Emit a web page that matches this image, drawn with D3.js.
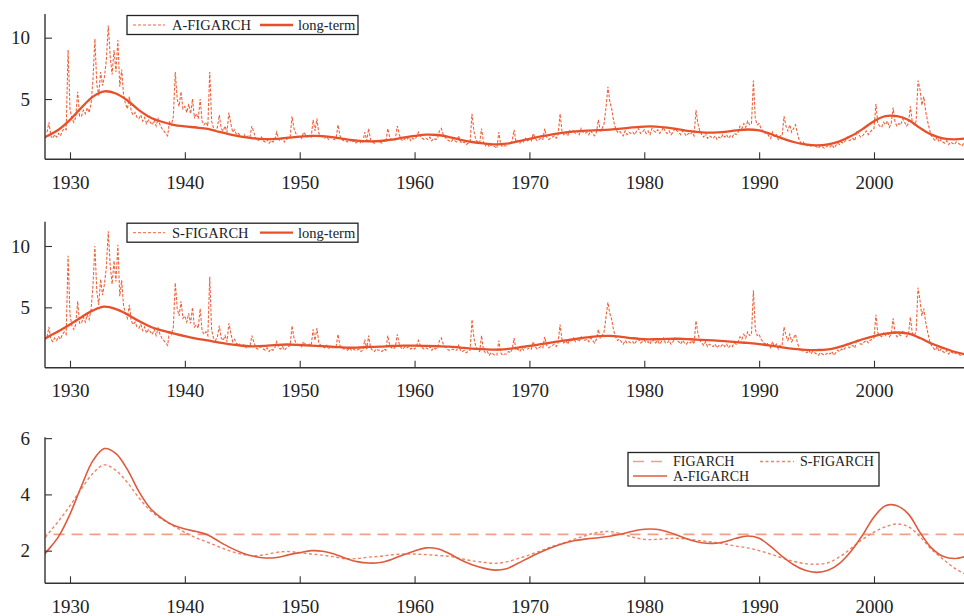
<!DOCTYPE html>
<html lang="en">
<head>
<meta charset="UTF-8">
<title>FIGARCH long-term components</title>
<script src="https://cdn.jsdelivr.net/npm/d3@7/dist/d3.min.js"></script>
<style>
  html, body { margin: 0; padding: 0; background: #fff; }
  svg text { font-family: "Liberation Serif", "DejaVu Serif", serif; fill: #222; }
</style>
</head>
<body>
<svg width="964" height="616"></svg>
<script>
// ---- data ----
// short-term series: 6 obs per year, first obs at 1928.0
var hfStart = 1928, hfPerYear = 6;
var aFigarch = [
  2.3, 3.1, 2.0, 1.8, 2.1, 1.9,   // 1928
  2.2, 2.0, 2.4, 2.6, 2.5, 9.0,   // 1929
  4.2, 3.4, 3.1, 3.5, 5.6, 3.6,
  3.6, 4.1, 3.8, 4.3, 3.9, 4.6,
  6.6, 9.9, 6.2, 5.3, 7.2, 6.1,
  6.8, 8.2, 11.0, 8.5, 7.0, 9.0,
  7.2, 9.8, 6.0, 7.4, 5.3, 4.6,
  4.2, 5.2, 4.0, 3.7, 3.9, 3.5,
  3.4, 3.7, 3.2, 3.5, 3.0, 3.3,
  3.1, 2.9, 3.3, 2.8, 3.4, 2.9,
  2.6, 2.4, 2.2, 2.0, 3.2, 2.9,   // 1938
  3.6, 7.2, 5.0, 4.4, 5.6, 4.2,
  4.4, 3.9, 4.6, 3.8, 5.0, 3.5,   // 1940
  3.8, 3.4, 5.0, 3.2, 2.9, 3.1,
  2.8, 7.2, 3.2, 2.6, 2.4, 2.7,
  3.7, 2.6, 2.4, 2.8, 2.3, 3.9,
  3.0, 2.3, 2.5, 2.1, 2.2, 2.0,
  1.9, 2.1, 1.8, 2.0, 1.9, 2.8,
  2.3, 1.8, 1.6, 1.7, 1.9, 1.6,
  1.5, 1.7, 1.4, 1.6, 1.5, 1.7,
  2.3, 1.7, 1.6, 1.8, 1.5, 1.7,
  1.8, 1.9, 3.6, 2.6, 2.2, 1.9,
  2.0, 1.8, 2.3, 2.1, 1.9, 2.0,   // 1950
  1.9, 3.3, 2.4, 3.4, 2.2, 2.0,
  1.9, 1.8, 2.0, 1.7, 1.9, 1.8,
  1.7, 1.8, 2.9, 2.0, 1.7, 1.6,
  1.6, 1.5, 1.7, 1.5, 1.6, 1.4,
  1.5, 1.6, 1.4, 1.5, 2.3, 1.6,
  2.6, 1.7, 1.5, 1.4, 1.6, 1.5,
  1.5, 1.4, 1.6, 1.5, 2.6, 1.9,
  1.7, 1.6, 1.8, 2.8, 2.1, 1.7,
  1.6, 1.8, 1.7, 1.9, 1.6, 1.8,
  1.7, 1.9, 2.3, 2.0, 1.8, 1.7,   // 1960
  1.8, 1.7, 1.9, 1.6, 1.8, 1.7,
  1.8, 2.4, 2.6, 2.1, 1.9, 1.7,
  1.6, 1.5, 1.7, 1.6, 1.5, 2.0,
  1.5, 1.4, 1.5, 1.3, 1.4, 1.5,
  3.8, 2.4, 1.7, 1.5, 1.4, 2.6,
  1.5, 1.2, 1.4, 1.1, 1.3, 1.2,
  1.1, 1.0, 2.3, 1.3, 1.1, 1.2,
  1.2, 1.4, 1.3, 1.6, 2.5, 1.5,
  1.6, 1.4, 1.7, 1.5, 1.8, 1.6,
  1.7, 1.6, 2.2, 1.8, 1.6, 1.7,   // 1970
  1.8, 1.7, 2.6, 1.9, 1.7, 1.8,
  1.9, 2.0, 1.8, 2.1, 3.8, 2.4,
  2.1, 2.3, 2.0, 2.4, 2.2, 2.5,
  2.2, 2.4, 2.1, 2.6, 2.3, 2.2,
  2.3, 2.1, 2.4, 2.2, 2.0, 2.3,
  3.3, 2.4, 2.6, 3.0, 4.3, 6.0,
  4.8, 4.2, 3.2, 2.6, 2.3, 2.4,
  2.2, 2.0, 2.4, 2.1, 2.3, 2.2,
  2.3, 2.1, 2.4, 2.6, 2.2, 2.3,
  2.5, 2.2, 2.4, 2.1, 2.6, 2.4,   // 1980
  2.3, 2.5, 2.2, 2.4, 2.7, 2.3,
  2.2, 2.4, 2.1, 2.3, 2.6, 2.4,
  2.3, 2.1, 2.4, 2.2, 2.0, 2.2,
  2.1, 2.3, 2.0, 4.1, 3.0, 2.4,
  2.1, 1.9, 2.2, 1.8, 2.0, 1.9,
  1.8, 2.0, 1.7, 1.9, 1.8, 2.1,
  1.9, 2.1, 1.8, 2.0, 1.9, 2.2,
  2.1, 2.3, 2.8, 2.6, 3.0, 2.7,
  3.2, 2.9, 3.0, 6.5, 3.4, 2.9,
  3.0, 2.6, 2.4, 2.2, 2.3, 2.0,   // 1990
  1.8, 2.3, 1.9, 2.1, 1.7, 2.0,
  2.0, 3.6, 2.8, 2.4, 2.9, 2.3,
  2.6, 2.9, 2.2, 1.6, 1.4, 1.5,
  1.3, 1.2, 1.4, 1.1, 1.3, 1.2,
  1.1, 1.0, 1.2, 1.1, 1.0, 1.1,
  1.2, 1.1, 1.3, 1.0, 1.2, 1.4,
  1.3, 1.5, 1.4, 1.6, 1.9, 1.6,
  1.7, 1.8, 1.6, 2.4, 2.1, 1.9,
  2.0, 2.2, 2.4, 2.1, 2.3, 2.5,
  2.6, 4.6, 3.0, 2.8, 2.7, 3.1,   // 2000
  2.9, 3.2, 2.7, 3.0, 4.3, 3.1,
  2.8, 3.0, 2.9, 3.4, 3.1, 2.8,
  3.0, 4.4, 3.1, 2.9, 3.2, 6.5,
  5.8, 4.5, 5.2, 4.0, 3.2, 2.5,
  2.0, 1.8, 1.6, 1.9, 1.5, 1.7,
  1.5, 1.4, 1.6, 1.3, 1.5, 1.4,
  1.3, 1.5, 1.4, 1.3, 1.2, 1.4    // 2007
];
var sFigarch = [
  2.6, 3.4, 2.4, 2.2, 2.5, 2.3,   // 1928
  2.6, 2.4, 2.8, 3.0, 2.8, 9.2,
  4.4, 3.5, 3.2, 3.6, 5.5, 3.7,   // 1930
  3.7, 4.2, 3.8, 4.4, 4.0, 4.8,
  6.8, 10.0, 6.3, 5.2, 7.3, 6.0,
  6.9, 8.3, 11.2, 8.4, 6.9, 8.8,
  7.1, 10.1, 5.9, 7.2, 5.1, 4.5,
  4.1, 5.2, 3.9, 3.6, 3.8, 3.4,
  3.3, 3.6, 3.1, 3.4, 2.9, 3.2,
  3.0, 2.8, 3.2, 2.7, 3.3, 2.8,
  2.5, 2.3, 2.1, 1.9, 3.1, 2.8,
  3.4, 7.0, 4.9, 4.3, 5.5, 4.1,
  4.3, 3.8, 4.5, 3.7, 5.0, 3.4,   // 1940
  3.6, 3.3, 4.9, 3.1, 2.8, 3.0,
  2.7, 7.5, 3.1, 2.5, 2.3, 2.6,
  3.5, 2.5, 2.3, 2.7, 2.2, 3.7,
  2.9, 2.2, 2.4, 2.0, 2.1, 1.9,
  1.8, 2.0, 1.7, 1.9, 1.8, 2.7,
  2.2, 1.7, 1.6, 1.7, 1.8, 1.6,
  1.5, 1.7, 1.4, 1.6, 1.5, 1.7,
  2.2, 1.7, 1.6, 1.8, 1.5, 1.7,
  1.8, 1.9, 3.5, 2.5, 2.1, 1.9,
  2.0, 1.8, 2.2, 2.0, 1.9, 2.0,   // 1950
  1.9, 3.2, 2.3, 3.3, 2.1, 1.9,
  1.8, 1.7, 1.9, 1.6, 1.8, 1.7,
  1.7, 1.8, 2.8, 1.9, 1.7, 1.6,
  1.6, 1.5, 1.7, 1.5, 1.6, 1.5,
  1.5, 1.6, 1.4, 1.5, 2.4, 1.6,
  2.7, 1.7, 1.5, 1.4, 1.6, 1.5,
  1.5, 1.4, 1.6, 1.5, 2.7, 1.9,
  1.7, 1.6, 1.8, 2.8, 2.0, 1.7,
  1.6, 1.8, 1.7, 1.8, 1.6, 1.7,
  1.6, 1.8, 2.3, 1.9, 1.7, 1.6,   // 1960
  1.7, 1.6, 1.8, 1.5, 1.7, 1.6,
  1.7, 2.3, 2.5, 2.0, 1.8, 1.6,
  1.5, 1.5, 1.6, 1.5, 1.5, 1.9,
  1.5, 1.4, 1.5, 1.3, 1.4, 1.5,
  4.0, 2.5, 1.8, 1.5, 1.4, 2.7,
  1.5, 1.3, 1.4, 1.1, 1.3, 1.2,
  1.1, 1.1, 2.3, 1.3, 1.1, 1.2,
  1.2, 1.4, 1.3, 1.6, 2.5, 1.5,
  1.6, 1.4, 1.7, 1.5, 1.8, 1.6,
  1.7, 1.6, 2.2, 1.8, 1.6, 1.7,   // 1970
  1.8, 1.7, 2.6, 1.9, 1.7, 1.8,
  1.9, 2.0, 1.8, 2.1, 3.6, 2.4,
  2.1, 2.3, 2.0, 2.4, 2.2, 2.5,
  2.2, 2.4, 2.2, 2.6, 2.4, 2.3,
  2.4, 2.2, 2.5, 2.3, 2.1, 2.4,
  3.2, 2.5, 2.7, 3.0, 4.2, 5.4,
  4.5, 4.0, 3.1, 2.6, 2.3, 2.4,
  2.2, 2.0, 2.3, 2.1, 2.2, 2.1,
  2.2, 2.0, 2.3, 2.4, 2.1, 2.2,
  2.3, 2.1, 2.2, 2.0, 2.4, 2.2,   // 1980
  2.1, 2.3, 2.0, 2.2, 2.5, 2.1,
  2.1, 2.3, 2.0, 2.2, 2.5, 2.3,
  2.2, 2.0, 2.3, 2.1, 2.0, 2.2,
  2.1, 2.3, 2.0, 3.9, 2.9, 2.3,
  2.1, 1.9, 2.2, 1.8, 2.0, 1.9,
  1.8, 2.0, 1.7, 1.9, 1.8, 2.0,
  1.8, 2.0, 1.7, 1.9, 1.8, 2.1,
  2.0, 2.2, 2.6, 2.4, 2.8, 2.5,
  3.0, 2.7, 2.8, 6.4, 3.2, 2.7,
  2.8, 2.4, 2.2, 2.0, 2.1, 1.9,   // 1990
  1.7, 2.2, 1.8, 2.0, 1.6, 1.9,
  1.9, 3.4, 2.7, 2.3, 2.8, 2.2,
  2.5, 2.8, 2.1, 1.6, 1.4, 1.5,
  1.4, 1.3, 1.5, 1.2, 1.4, 1.3,
  1.2, 1.1, 1.3, 1.2, 1.1, 1.2,
  1.3, 1.2, 1.4, 1.1, 1.3, 1.5,
  1.4, 1.6, 1.5, 1.7, 2.0, 1.7,
  1.8, 1.9, 1.7, 2.4, 2.2, 2.0,
  2.0, 2.2, 2.3, 2.1, 2.3, 2.4,
  2.5, 4.4, 2.9, 2.7, 2.6, 2.9,   // 2000
  2.7, 3.0, 2.6, 2.8, 4.1, 2.9,
  2.6, 2.8, 2.7, 3.1, 2.9, 2.6,
  2.8, 4.2, 2.9, 2.7, 3.0, 6.6,
  5.6, 4.3, 4.9, 3.8, 3.0, 2.3,
  1.9, 1.7, 1.5, 1.8, 1.4, 1.6,
  1.4, 1.3, 1.5, 1.2, 1.4, 1.3,
  1.2, 1.3, 1.2, 1.1, 1.1, 1.2    // 2007
];

// long-term components, one value per year from 1927
var ltStart = 1927;
var aLong = [
  1.5, 1.98, 2.5, 3.3, 4.3, 5.2, 5.63, 5.45, 4.88, 4.1, 3.5, 3.15, 2.9,
  2.77, 2.68, 2.56, 2.32, 2.1, 1.92, 1.8, 1.74, 1.76, 1.85,
  1.93, 2.0, 1.98, 1.88, 1.73, 1.61, 1.56, 1.58, 1.69, 1.85,
  1.99, 2.1, 2.07, 1.9, 1.68, 1.5, 1.38, 1.31, 1.36, 1.55,
  1.76, 1.95, 2.12, 2.26, 2.36, 2.42, 2.46, 2.51, 2.59, 2.69,
  2.76, 2.76, 2.67, 2.53, 2.38, 2.28, 2.26, 2.32, 2.44, 2.52,
  2.44, 2.15, 1.8, 1.5, 1.3, 1.23, 1.3, 1.55, 1.98, 2.55,
  3.2, 3.6, 3.6, 3.3, 2.65, 2.1, 1.8, 1.72, 1.8
];
var sLong = [
  2.0, 2.55, 3.05, 3.6, 4.2, 4.75, 5.05, 4.85, 4.42, 3.88, 3.42, 3.12, 2.88,
  2.65, 2.45, 2.3, 2.13, 1.98, 1.87, 1.82, 1.86, 1.94, 1.97,
  1.93, 1.88, 1.84, 1.78, 1.71, 1.72, 1.77, 1.8, 1.85, 1.88,
  1.88, 1.86, 1.83, 1.8, 1.72, 1.64, 1.59, 1.55, 1.6, 1.72,
  1.85, 2.0, 2.15, 2.28, 2.42, 2.55, 2.65, 2.68, 2.6, 2.48,
  2.4, 2.4, 2.43, 2.44, 2.4, 2.35, 2.3, 2.24, 2.16, 2.1,
  2.0, 1.88, 1.74, 1.62, 1.54, 1.52, 1.57, 1.78, 2.08, 2.4,
  2.66, 2.85, 2.95, 2.85, 2.5, 2.05, 1.7, 1.38, 1.15
];
var figarchLevel = 2.58;

var xMajor = [1930, 1940, 1950, 1960, 1970, 1980, 1990, 2000];
var xMinor = d3.range(1928, 2008, 2);

// ---- helpers ----
function hfPoints(arr) {
  return arr.map(function (v, i) { return [hfStart + i / hfPerYear, v]; });
}
function ltPoints(arr) {
  return arr.map(function (v, i) { return [ltStart + i, v]; });
}

var svg = d3.select('svg');
var W = 964, left = 45;
var serif = '"Liberation Serif", "DejaVu Serif", serif';
var colMain = '#e8502a', colDash = '#f0623c';

var x = d3.scaleLinear().domain([1930, 2000]).range([70, 874]);

var panels = [
  { top: 14, bottom: 159.3, dom: [0.09, 11.93], major: [5, 10], minor: d3.range(1, 12) },
  { top: 221.7, bottom: 367.7, dom: [0.08, 11.98], major: [5, 10], minor: d3.range(1, 12) },
  { top: 437.3, bottom: 583.3, dom: [0.84, 6.03], major: [2, 4, 6], minor: d3.range(1.2, 6.01, 0.4) }
];

panels.forEach(function (p, k) {
  p.y = d3.scaleLinear().domain(p.dom).range([p.bottom, p.top]);
  var g = svg.append('g');

  svg.append('clipPath').attr('id', 'clip' + k)
    .append('rect').attr('x', left).attr('y', p.top - 5)
    .attr('width', W - left).attr('height', p.bottom - p.top + 5);
  p.plot = g.append('g').attr('clip-path', 'url(#clip' + k + ')');

  // x axis (ticks pointing inward)
  var gx = g.append('g').attr('transform', 'translate(0,' + p.bottom + ')');
  gx.call(d3.axisBottom(x).tickValues(xMinor).tickSize(-4).tickFormat(''));
  gx.call(d3.axisBottom(x).tickValues(xMajor).tickSize(-7).tickPadding(16).tickFormat(d3.format('d')));
  gx.attr('font-family', serif);
  gx.selectAll('.domain').remove();
  gx.selectAll('line').attr('stroke', '#333').attr('stroke-width', 1.1);
  gx.selectAll('text').attr('font-size', 19).attr('font-family', serif).attr('fill', '#222');

  // y axis
  var gy = g.append('g').attr('transform', 'translate(' + left + ',0)');
  gy.call(d3.axisLeft(p.y).tickValues(p.minor).tickSize(-4).tickFormat(''));
  gy.call(d3.axisLeft(p.y).tickValues(p.major).tickSize(-7).tickPadding(15).tickFormat(d3.format('d')));
  gy.attr('font-family', serif);
  gy.selectAll('.domain').remove();
  gy.selectAll('line').attr('stroke', '#333').attr('stroke-width', 1.1);
  gy.selectAll('text').attr('font-size', 19).attr('font-family', serif).attr('fill', '#222');

  // spines
  g.append('line').attr('x1', left).attr('x2', W).attr('y1', p.bottom).attr('y2', p.bottom)
    .attr('stroke', '#333').attr('stroke-width', 1.4);
  g.append('line').attr('x1', left).attr('x2', left).attr('y1', p.top).attr('y2', p.bottom)
    .attr('stroke', '#333').attr('stroke-width', 1.4);
});

function lineGen(p, curve) {
  return d3.line().x(function (d) { return x(d[0]); }).y(function (d) { return p.y(d[1]); })
    .curve(curve || d3.curveLinear);
}

// panel 1 & 2: short-term series + long-term component
[[aFigarch, aLong, 'A-FIGARCH'], [sFigarch, sLong, 'S-FIGARCH']].forEach(function (s, k) {
  var p = panels[k];
  p.plot.append('path').datum(hfPoints(s[0]))
    .attr('d', lineGen(p))
    .attr('fill', 'none').attr('stroke', colDash).attr('stroke-width', 1.1)
    .attr('stroke-dasharray', '3,1.6');
  p.plot.append('path').datum(ltPoints(s[1]))
    .attr('d', lineGen(p, d3.curveCatmullRom))
    .attr('fill', 'none').attr('stroke', colMain).attr('stroke-width', 2.3);

  // legend
  var ly = p.top + 11;
  var lg = svg.append('g').attr('font-family', serif);
  lg.append('rect').attr('x', 127).attr('y', ly - 9.5).attr('width', 231).attr('height', 19)
    .attr('fill', '#fff').attr('stroke', '#222').attr('stroke-width', 1.3);
  lg.append('line').attr('x1', 133).attr('x2', 165).attr('y1', ly).attr('y2', ly)
    .attr('stroke', colDash).attr('stroke-width', 1).attr('stroke-dasharray', '3,2');
  lg.append('text').attr('x', 172).attr('y', ly).attr('dy', '0.35em').attr('font-size', 14.5)
    .attr('font-family', serif).text(s[2]);
  lg.append('line').attr('x1', 260).attr('x2', 293).attr('y1', ly).attr('y2', ly)
    .attr('stroke', colMain).attr('stroke-width', 2.3);
  lg.append('text').attr('x', 298).attr('y', ly).attr('dy', '0.35em').attr('font-size', 14.5)
    .attr('font-family', serif).text('long-term');
});

// panel 3: comparison of long-term components
var p3 = panels[2];
var colFig = '#f0a088', colS = '#ec8468', colA = '#e05a3c';
p3.plot.append('path').datum([[1927, figarchLevel], [2009, figarchLevel]])
  .attr('d', lineGen(p3))
  .attr('fill', 'none').attr('stroke', colFig).attr('stroke-width', 1.6).attr('stroke-dasharray', '11,7');
p3.plot.append('path').datum(ltPoints(sLong))
  .attr('d', lineGen(p3, d3.curveCatmullRom))
  .attr('fill', 'none').attr('stroke', colS).attr('stroke-width', 1.4).attr('stroke-dasharray', '3,2.5');
p3.plot.append('path').datum(ltPoints(aLong))
  .attr('d', lineGen(p3, d3.curveCatmullRom))
  .attr('fill', 'none').attr('stroke', colA).attr('stroke-width', 1.6);

var lg3 = svg.append('g').attr('font-family', serif);
lg3.append('rect').attr('x', 628).attr('y', 452.5).attr('width', 251).attr('height', 33.5)
  .attr('fill', '#fff').attr('stroke', '#222').attr('stroke-width', 1.3);
var leg3 = [
  { x: 633, y: 461.5, label: 'FIGARCH', col: colFig, w: 1.6, dash: '11,7' },
  { x: 760, y: 461.5, label: 'S-FIGARCH', col: colS, w: 1.4, dash: '3,2.5' },
  { x: 633, y: 476, label: 'A-FIGARCH', col: colA, w: 1.6, dash: null }
];
leg3.forEach(function (d) {
  lg3.append('line').attr('x1', d.x).attr('x2', d.x + 34).attr('y1', d.y).attr('y2', d.y)
    .attr('stroke', d.col).attr('stroke-width', d.w).attr('stroke-dasharray', d.dash);
  lg3.append('text').attr('x', d.x + 40).attr('y', d.y).attr('dy', '0.35em')
    .attr('font-size', 14).attr('font-family', serif).text(d.label);
});
</script>
</body>
</html>
